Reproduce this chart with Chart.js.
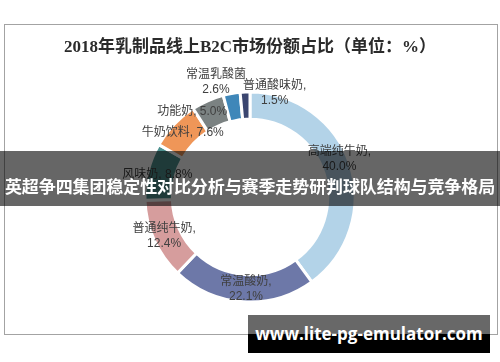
<!DOCTYPE html>
<html>
<head>
<meta charset="utf-8">
<script src="https://cdn.jsdelivr.net/npm/chart.js@4/dist/chart.umd.min.js"></script>
<style>
  html, body { margin: 0; padding: 0; background: #fff; }
  #wrap { position: relative; width: 500px; height: 362px; overflow: hidden; }
  #frame { position: absolute; left: 4px; top: 24px; width: 492px; height: 309px; border: 1px solid #a3a3a3; box-sizing: content-box; }
  #c { position: absolute; left: 0; top: 0; }
  #banner { position: absolute; left: 0; top: 151px; width: 500px; height: 55px; background: rgba(0,0,0,0.6); }
  #banner span { position: absolute; left: 0; width: 500px; top: 22px; line-height: 22px; text-align: center; color: #fff;
    font: bold 17px "Noto Sans CJK SC", sans-serif; letter-spacing: -0.1px; white-space: nowrap; }
  #wm { position: absolute; left: 248px; top: 315px; width: 242px; height: 38px;
    background: linear-gradient(#686868 0, #686868 19px, #000 19px, #000 100%); }
  #wm span { position: absolute; left: 0; width: 242px; top: 7px; line-height: 26px; text-align: center; color: #fff;
    font: bold 17px "Open Sans", sans-serif; white-space: nowrap; }
</style>
</head>
<body>
<div id="wrap">
  <div id="frame"></div>
  <canvas id="c" width="500" height="362"></canvas>
  <div id="banner"><span>英超争四集团稳定性对比分析与赛季走势研判球队结构与竞争格局</span></div>
  <div id="wm"><span>www.lite-pg-emulator.com</span></div>
</div>
<script>
const chartTitle = '2018年乳制品线上B2C市场份额占比（单位：%）';
const categories = ['高端纯牛奶', '常温酸奶', '普通纯牛奶', '风味奶', '牛奶饮料', '功能奶', '常温乳酸菌', '普通酸味奶'];
const shares = [40.0, 22.1, 12.4, 8.8, 7.6, 5.0, 2.6, 1.5];
const sliceColors = ['#b3d3e8', '#6d78a8', '#d69d9d', '#4e9290', '#ef9658', '#7b8282', '#3f87b9', '#3b4670'];

// label layout: 'two' = name on one line, value below; 'one' = single line
const labelStyle = ['two', 'two', 'two', 'one', 'one', 'one', 'twoNoComma', 'two'];
const labelNudge = [[2.5, -9.5], [2, 1], [-2.5, 1.5], [-4, 0], [-1, -1], [-21, -2], [-18, -24.5], [29, -12]];

const labelPlugin = {
  id: 'sliceLabels',
  afterDatasetsDraw(chart) {
    const ctx = chart.ctx;
    const meta = chart.getDatasetMeta(0);
    ctx.save();
    ctx.fillStyle = '#404040';
    ctx.font = '12px "Liberation Sans", "Noto Sans CJK SC", sans-serif';
    ctx.textAlign = 'center';
    ctx.textBaseline = 'middle';
    meta.data.forEach((arc, i) => {
      const p = arc.getProps(['x', 'y', 'startAngle', 'endAngle', 'innerRadius', 'outerRadius'], true);
      const mid = (p.startAngle + p.endAngle) / 2;
      const r = (p.innerRadius + p.outerRadius) / 2;
      const x = p.x + Math.cos(mid) * r + labelNudge[i][0];
      const y = p.y + Math.sin(mid) * r + labelNudge[i][1];
      const val = shares[i].toFixed(1) + '%';
      if (labelStyle[i] === 'one') {
        ctx.fillText(categories[i] + ', ' + val, x, y);
      } else {
        const name = labelStyle[i] === 'twoNoComma' ? categories[i] : categories[i] + ',';
        ctx.fillText(name, x, y - 7.5);
        ctx.fillText(val, x, y + 7.5);
      }
    });
    ctx.restore();
  }
};

new Chart(document.getElementById('c'), {
  type: 'doughnut',
  data: {
    labels: categories,
    datasets: [{
      data: shares,
      backgroundColor: sliceColors,
      borderColor: '#ffffff',
      borderWidth: 3,
      hoverOffset: 0
    }]
  },
  options: {
    responsive: false,
    animation: false,
    cutout: '74%',
    layout: { padding: { top: 0, bottom: 58.5, left: 0, right: 0 } },
    plugins: {
      legend: { display: false },
      tooltip: { enabled: false },
      title: {
        display: true,
        text: chartTitle,
        color: '#2b2b2b',
        font: { family: '"Liberation Serif", "Noto Sans CJK SC", serif', size: 17, weight: 'bold', lineHeight: 1.2 },
        padding: { top: 37, bottom: 33 }
      }
    }
  },
  plugins: [labelPlugin]
});
</script>
</body>
</html>
